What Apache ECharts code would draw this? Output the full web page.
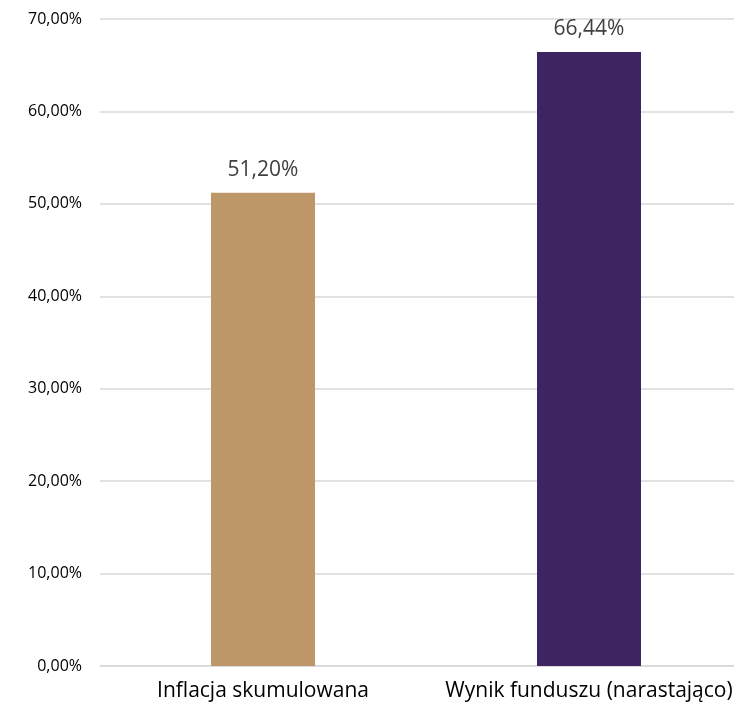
<!DOCTYPE html>
<html>
<head>
<meta charset="utf-8">
<script src="https://cdn.jsdelivr.net/npm/echarts@6/dist/echarts.min.js"></script>
<style>
  html, body { margin: 0; padding: 0; background: #fff; }
  #container { width: 734px; height: 708px; }
</style>
</head>
<body>
<div id="container"></div>
<script>
// data
var categories = ["Inflacja skumulowana", "Wynik funduszu (narastająco)"];
var values = [51.2, 66.44];
var barColors = ["#bd9767", "#3e2561"];

function pct(v) {
  return v.toFixed(2).replace(".", ",") + "%";
}

var dom = document.getElementById("container");
var myChart = echarts.init(dom);

var option = {
  animation: false,
  grid: {
    left: 100,
    top: 19,
    width: 652,
    height: 647,
    outerBoundsMode: "none",
  },
  xAxis: {
    type: "category",
    data: categories,
    axisLine: { show: true, lineStyle: { color: "#d9d9d9", width: 1.5 } },
    axisTick: { show: false },
    axisLabel: {
      color: "#000",
      fontFamily: "Open Sans",
      fontSize: 21,
      margin: 15,
      interval: 0,
    },
  },
  yAxis: {
    type: "value",
    min: 0,
    max: 70,
    interval: 10,
    axisLine: { show: false },
    axisTick: { show: false },
    splitLine: { lineStyle: { color: "#d9d9d9", width: 1.5 } },
    axisLabel: {
      color: "#000",
      fontFamily: "Open Sans",
      fontSize: 16,
      margin: 18,
      formatter: function (v) {
        return pct(v);
      },
    },
  },
  series: [
    {
      type: "bar",
      barWidth: 104,
      data: values.map(function (v, i) {
        return { value: v, itemStyle: { color: barColors[i] } };
      }),
      label: {
        show: true,
        position: "top",
        distance: 12,
        color: "#404040",
        fontFamily: "Open Sans",
        fontSize: 21,
        formatter: function (p) {
          return pct(p.value);
        },
      },
    },
  ],
};

myChart.setOption(option, true);
</script>
</body>
</html>
